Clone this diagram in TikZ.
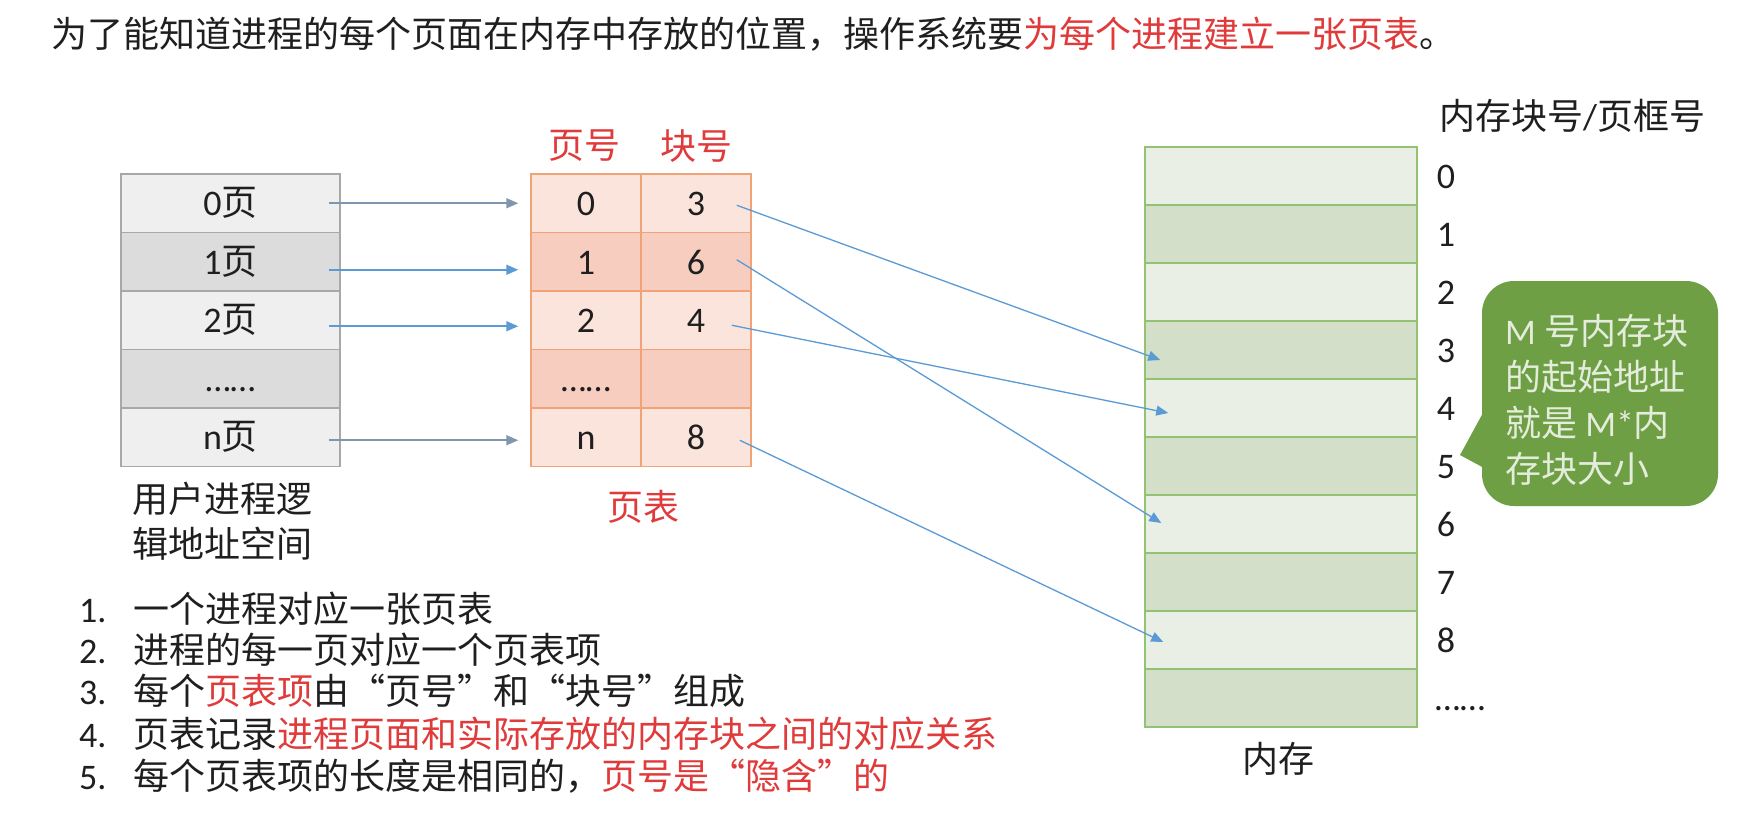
\documentclass[tikz,border=0pt]{standalone}
\usepackage{fontspec}
\setmainfont{Noto Sans CJK SC}
\newfontfamily\latf{Carlito}
\newcommand\lat[1]{{\latf #1}}
\newfontfamily\qfont{Noto Sans CJK SC}[RawFeature=+fwid]
\newcommand\fq[1]{{\qfont #1}}
\usetikzlibrary{arrows.meta,calc}
\definecolor{redt}{HTML}{E03A3A}
\definecolor{txt}{HTML}{1F1F1F}
\definecolor{ugl}{HTML}{EFEFEF}
\definecolor{ugd}{HTML}{DCDCDC}
\definecolor{ugb}{HTML}{A8A8A8}
\definecolor{ptl}{HTML}{FBE4DC}
\definecolor{ptd}{HTML}{F6CDBF}
\definecolor{ptb}{HTML}{F2A277}
\definecolor{mml}{HTML}{E9EFE4}
\definecolor{mmd}{HTML}{D4DFCA}
\definecolor{mmb}{HTML}{93C273}
\definecolor{arb}{HTML}{5B9BD5}
\definecolor{arg}{HTML}{8096AE}
\definecolor{cog}{HTML}{6F9F45}
\definecolor{cot}{HTML}{E4ECDC}
\tikzset{
  txtn/.style={font=\fontsize{36}{43}\selectfont, text=txt, inner sep=0pt},
  celltxt/.style={txtn, text height=25pt, text depth=0pt},
  ucell/.style={celltxt, draw=ugb, line width=1.5pt, minimum width=219pt, minimum height=58.5pt},
  pcell/.style={celltxt, draw=ptb, line width=1.5pt, minimum width=110pt, minimum height=58.5pt},
  mcell/.style={draw=mmb, line width=1.5pt, minimum width=272pt, minimum height=58pt, inner sep=0pt},
  mnum/.style={celltxt},
  arrg/.style={draw=arg, line width=1.6pt, -{Triangle[length=12pt,width=10pt]}},
  arrb/.style={draw=arb, line width=1.6pt, -{Triangle[length=12pt,width=10pt]}},
  arrm/.style={draw=arb, line width=1.3pt, -{Triangle[length=12pt,width=10pt]}},
}
\begin{document}
\begin{tikzpicture}[x=1pt,y=-1pt]
\useasboundingbox[fill=white] (0,0) rectangle (1763,838);

% title
\node[txtn, anchor=base west] (title) at (51,47) {为了能知道进程的每个页面在内存中存放的位置，操作系统要\textcolor{redt}{为每个进程建立一张页表}。};

% user logical address space
\node[ucell, fill=ugl] (u0) at (230.5,203.25) {\lat{0}页};
\node[ucell, fill=ugd] (u1) at (230.5,261.75) {\lat{1}页};
\node[ucell, fill=ugl] (u2) at (230.5,320.25) {\lat{2}页};
\node[ucell, fill=ugd] (u3) at (230.5,378.75) {\lat{……}};
\node[ucell, fill=ugl] (u4) at (230.5,437.25) {\lat{n}页};
\node[txtn, anchor=north west, align=left, font=\fontsize{36}{45}\selectfont] (ulabel) at (132,482) {用户进程逻\\辑地址空间};

% page table
\node[txtn, text=redt] (h1) at (584,146) {页号};
\node[txtn, text=redt] (h2) at (696,146) {块号};
\node[pcell, fill=ptl] (p0a) at (586,203.25) {\lat{0}};
\node[pcell, fill=ptl] (p0b) at (696,203.25) {\lat{3}};
\node[pcell, fill=ptd] (p1a) at (586,261.75) {\lat{1}};
\node[pcell, fill=ptd] (p1b) at (696,261.75) {\lat{6}};
\node[pcell, fill=ptl] (p2a) at (586,320.25) {\lat{2}};
\node[pcell, fill=ptl] (p2b) at (696,320.25) {\lat{4}};
\node[pcell, fill=ptd] (p3a) at (586,378.75) {\lat{……}};
\node[pcell, fill=ptd] (p3b) at (696,378.75) {};
\node[pcell, fill=ptl] (p4a) at (586,437.25) {\lat{n}};
\node[pcell, fill=ptl] (p4b) at (696,437.25) {\lat{8}};
\node[txtn, text=redt] (plabel) at (643,507) {页表};

% memory
\node[mcell, fill=mml] (m0) at (1281,176) {};
\node[mcell, fill=mmd] (m1) at (1281,234) {};
\node[mcell, fill=mml] (m2) at (1281,292) {};
\node[mcell, fill=mmd] (m3) at (1281,350) {};
\node[mcell, fill=mml] (m4) at (1281,408) {};
\node[mcell, fill=mmd] (m5) at (1281,466) {};
\node[mcell, fill=mml] (m6) at (1281,524) {};
\node[mcell, fill=mmd] (m7) at (1281,582) {};
\node[mcell, fill=mml] (m8) at (1281,640) {};
\node[mcell, fill=mmd] (m9) at (1281,698) {};
\node[txtn, anchor=west] (mtitle) at (1439,116) {内存块号\lat{/}页框号};
\node[mnum] (k0) at (1446,176) {\lat{0}};
\node[mnum] (k1) at (1446,234) {\lat{1}};
\node[mnum] (k2) at (1446,292) {\lat{2}};
\node[mnum] (k3) at (1446,350) {\lat{3}};
\node[mnum] (k4) at (1446,408) {\lat{4}};
\node[mnum] (k5) at (1446,466) {\lat{5}};
\node[mnum] (k6) at (1446,524) {\lat{6}};
\node[mnum] (k7) at (1446,582) {\lat{7}};
\node[mnum] (k8) at (1446,640) {\lat{8}};
\node[mnum] (k9) at (1460,698) {\lat{……}};
\node[txtn] (mlabel) at (1278,759) {内存};

% arrows: pages -> page table
\draw[arrg] ($(u0.east)+(-12,0)$) -- ($(p0a.west)+(-12,0)$);
\draw[arrb] ($(u1.east)+(-12,8)$) -- ($(p1a.west)+(-12,8)$);
\draw[arrb] ($(u2.east)+(-12,6)$) -- ($(p2a.west)+(-12,6)$);
\draw[arrg] ($(u4.east)+(-12,3)$) -- ($(p4a.west)+(-12,3)$);

% arrows: page table -> memory
\draw[arrm] ($(p0b.east)+(-15,2)$) -- ($(m3.west)+(16,10)$);
\draw[arrm] ($(p1b.east)+(-15,-2)$) -- ($(m6.west)+(17,-1)$);
\draw[arrm] ($(p2b.east)+(-20,5)$) -- ($(m4.west)+(24,5)$);
\draw[arrm] ($(p4b.east)+(-12,3)$) -- ($(m8.west)+(19,2)$);

% callout
\fill[cog, rounded corners=32pt] (1482,281) rectangle (1718,506);
\fill[cog] (1484,411) -- (1460,455) -- (1484,468) -- cycle;
\node[txtn, text=cot, anchor=north west, align=left, font=\fontsize{36}{46}\selectfont] (callout) at (1505,314) {\lat{M} 号内存块\\的起始地址\\就是 \lat{M*}内\\存块大小};

% list
\node[txtn, anchor=base west] (n1) at (79,622) {\lat{1.}};
\node[txtn, anchor=base west] (t1) at (133,622) {一个进程对应一张页表};
\node[txtn, anchor=base west] (n2) at (79,663) {\lat{2.}};
\node[txtn, anchor=base west] (t2) at (133,663) {进程的每一页对应一个页表项};
\node[txtn, anchor=base west] (n3) at (79,704) {\lat{3.}};
\node[txtn, anchor=base west] (t3) at (133,704) {每个\textcolor{redt}{页表项}由\fq{“}页号\fq{”}和\fq{“}块号\fq{”}组成};
\node[txtn, anchor=base west] (n4) at (79,747) {\lat{4.}};
\node[txtn, anchor=base west] (t4) at (133,747) {页表记录\textcolor{redt}{进程页面和实际存放的内存块之间的对应关系}};
\node[txtn, anchor=base west] (n5) at (79,789) {\lat{5.}};
\node[txtn, anchor=base west] (t5) at (133,789) {每个页表项的长度是相同的，\textcolor{redt}{页号是\fq{“}隐含\fq{”}的}};
\end{tikzpicture}
\end{document}
